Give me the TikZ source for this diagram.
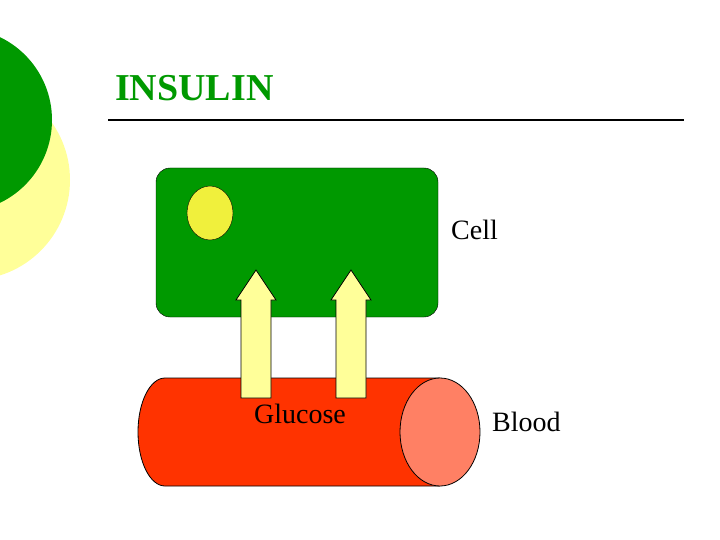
\documentclass[tikz,border=0pt]{standalone}
\usepackage{fontspec}
\setmainfont{Liberation Serif}
\usepackage{tikz}
\usetikzlibrary{shapes.geometric}
\definecolor{leafgreen}{RGB}{0,153,0}
\definecolor{paleyellow}{RGB}{255,255,153}
\definecolor{bloodred}{RGB}{255,51,0}
\definecolor{salmon}{RGB}{255,128,100}
\definecolor{nucleus}{RGB}{240,240,60}
\begin{document}
\begin{tikzpicture}[x=1pt, y=-1pt]
    % Define styles
    \tikzstyle{uparrow}=[draw=black, fill=paleyellow, line width=0.8pt]
    \tikzstyle{label}=[font=\fontsize{28}{30}\selectfont, inner sep=0pt]

    \useasboundingbox (0,0) rectangle (720,540);

    % Corner decoration
    \fill[paleyellow] (-30,180) circle (100);
    \fill[leafgreen] (-40,120) circle (92);

    % Title and rule
    \node[text=leafgreen, font=\bfseries\fontsize{38}{42}\selectfont, anchor=west, inner sep=0pt] (title) at (115,88) {INSULIN};
    \draw[line width=1.5pt] (108,120) coordinate (ruleL) -- (684,120) coordinate (ruleR);

    % Cell
    \node[draw=black, fill=leafgreen, rounded corners=14pt, minimum width=282pt, minimum height=149pt, inner sep=0pt] (cell) at (297,242.5) {};
    \node[draw=black, fill=nucleus, ellipse, minimum width=46pt, minimum height=54pt, inner sep=0pt] (nuc) at (210,213) {};
    \node[label, anchor=west] (celllabel) at (451,230) {Cell};

    % Blood vessel
    \draw[fill=bloodred, line width=0.8pt] (440,378) -- (165,378) arc[start angle=270, end angle=90, x radius=27, y radius=54] -- (440,486);
    \node[draw=black, fill=salmon, ellipse, minimum width=80pt, minimum height=108pt, inner sep=0pt, line width=0.8pt] (vesselend) at (440,432) {};
    \node[label] (glucose) at (300,414) {Glucose};
    \node[label, anchor=west] (blood) at (492,422) {Blood};

    % Glucose arrows
    \foreach \c in {256,351}
        \draw[uparrow] (\c-15,398) -- (\c-15,300) -- (\c-20,300) -- (\c,270) -- (\c+20,300) -- (\c+15,300) -- (\c+15,398) -- cycle;

\end{tikzpicture}
\end{document}
